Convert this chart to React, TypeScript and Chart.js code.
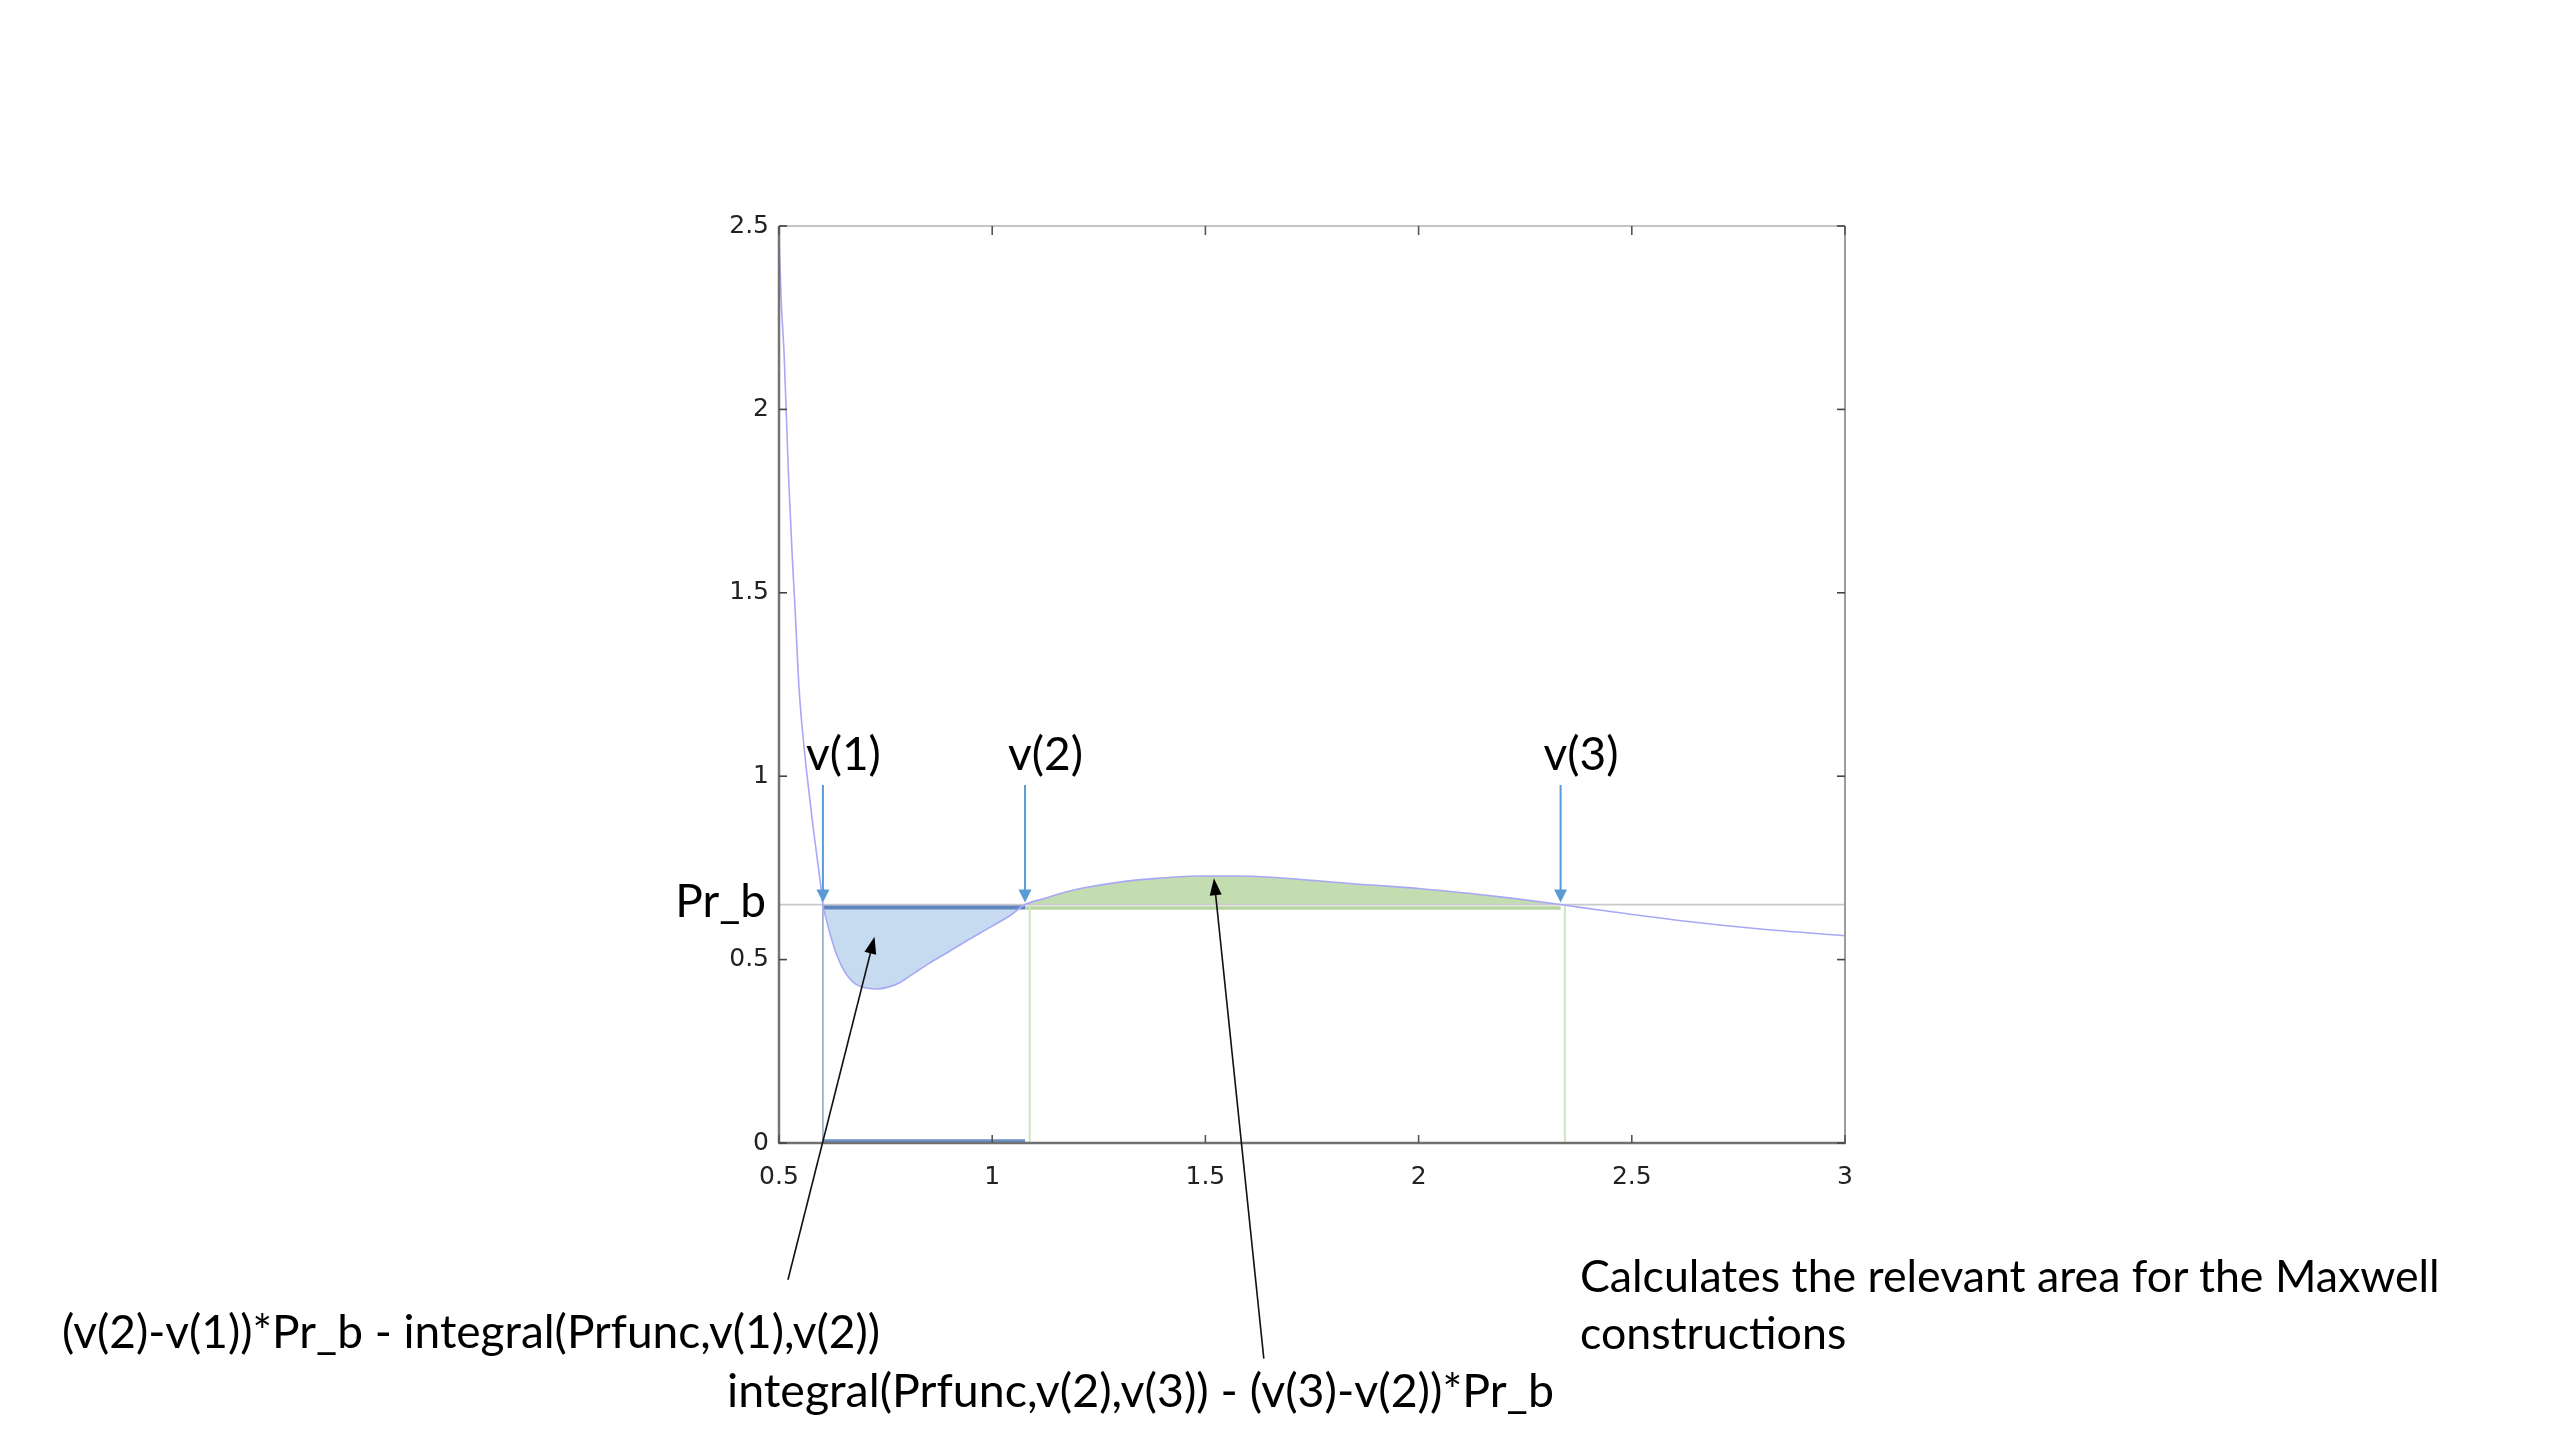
import React, { useEffect, useRef } from "react";
import { Chart, registerables } from "chart.js";

Chart.register(...registerables);

// ---------------- data ----------------
const curveX = [
  0.5, 0.505, 0.512, 0.522, 0.531, 0.538, 0.547, 0.557, 0.567, 0.578, 0.588, 0.597,
  0.603, 0.612, 0.621, 0.635, 0.653, 0.675, 0.702, 0.729, 0.756, 0.783, 0.818, 0.854,
  0.899, 0.944, 0.998, 1.043, 1.077, 1.124, 1.168, 1.213, 1.303, 1.392, 1.482, 1.572,
  1.661, 1.75, 1.854, 2.0, 2.123, 2.222, 2.333, 2.437, 2.616, 2.796, 3.0,
];
const curveY = [
  2.47, 2.3, 2.15, 1.83, 1.6, 1.45, 1.24, 1.1, 0.99, 0.88, 0.79, 0.71,
  0.65, 0.605, 0.565, 0.514, 0.469, 0.437, 0.423, 0.42, 0.425, 0.437, 0.464, 0.491,
  0.522, 0.554, 0.59, 0.621, 0.65, 0.667, 0.683, 0.695, 0.712, 0.722, 0.728, 0.728,
  0.724, 0.716, 0.706, 0.694, 0.68, 0.667, 0.65, 0.633, 0.606, 0.584, 0.565,
];
const PR_B = 0.65;
const vRoots = [0.603, 1.077, 2.333];
const vLabels = ["v(1)", "v(2)", "v(3)"];
const greenEdges = [1.088, 2.343];
const xTickValues = [0.5, 1, 1.5, 2, 2.5, 3];
const yTickValues = [0, 0.5, 1, 1.5, 2, 2.5];
const prLabel = "Pr_b";
const noteLeft = "(v(2)-v(1))*Pr_b - integral(Prfunc,v(1),v(2))";
const noteRight = "integral(Prfunc,v(2),v(3)) - (v(3)-v(2))*Pr_b";
const captionLines = ["Calculates the relevant area for the Maxwell", "constructions"];

// annotation geometry (data coordinates)
const ARROW_TOP = 0.976;
const pointerTips = [
  { x: 0.724, y: 0.562 },
  { x: 1.52, y: 0.722 },
];
const pointerTails = [
  { x: 0.521, y: -0.373 },
  { x: 1.637, y: -0.588 },
];

const TEXT_FONT = "Lato, 'Open Sans', sans-serif";

const overlayPlugin = {
  id: "maxwellOverlay",
  afterDatasetsDraw(chart: any) {
    const { ctx, chartArea: a, scales } = chart;
    const xs = scales.x;
    const ys = scales.y;
    const line = (x1: number, y1: number, x2: number, y2: number, color: string, w: number) => {
      ctx.beginPath();
      ctx.strokeStyle = color;
      ctx.lineWidth = w;
      ctx.moveTo(x1, y1);
      ctx.lineTo(x2, y2);
      ctx.stroke();
    };
    ctx.save();
    // frame
    line(a.left, a.top, a.right, a.top, "#c4c4c4", 2);
    line(a.right, a.top, a.right, a.bottom, "#9c9c9c", 2);
    line(a.left - 1, a.bottom, a.right + 1, a.bottom, "#707070", 2.5);
    line(a.left, a.top, a.left, a.bottom, "#747474", 2.5);
    // inward tick marks
    yTickValues.forEach((v) => {
      const py = ys.getPixelForValue(v);
      line(a.left, py, a.left + 8, py, "#444", 1.6);
      line(a.right - 8, py, a.right, py, "#444", 1.6);
    });
    xTickValues.forEach((v) => {
      const px = xs.getPixelForValue(v);
      line(px, a.top, px, a.top + 9, "#555", 1.6);
      line(px, a.bottom - 8, px, a.bottom, "#555", 1.6);
    });
    // blue root arrows + labels
    const prPix = ys.getPixelForValue(PR_B);
    const topPix = ys.getPixelForValue(ARROW_TOP);
    vRoots.forEach((v, i) => {
      const px = xs.getPixelForValue(v);
      const tip = prPix - 2;
      line(px, topPix, px, tip - 11, "#5B9BD5", 2);
      ctx.beginPath();
      ctx.fillStyle = "#5B9BD5";
      ctx.moveTo(px - 6.5, tip - 13);
      ctx.lineTo(px + 6.5, tip - 13);
      ctx.lineTo(px, tip);
      ctx.closePath();
      ctx.fill();
      ctx.font = `46px ${TEXT_FONT}`;
      ctx.fillStyle = "#000";
      ctx.textAlign = "left";
      ctx.textBaseline = "alphabetic";
      ctx.fillText(vLabels[i], px - 17, topPix - 15);
    });
    // Pr_b label
    ctx.font = `46px ${TEXT_FONT}`;
    ctx.fillStyle = "#000";
    ctx.textAlign = "right";
    ctx.textBaseline = "alphabetic";
    ctx.fillText(prLabel, a.left - 13, prPix + 12);
    // black pointer arrows
    pointerTips.forEach((t, i) => {
      const x1 = xs.getPixelForValue(pointerTails[i].x);
      const y1 = ys.getPixelForValue(pointerTails[i].y);
      const x2 = xs.getPixelForValue(t.x);
      const y2 = ys.getPixelForValue(t.y);
      const ang = Math.atan2(y2 - y1, x2 - x1);
      const c = Math.cos(ang);
      const s = Math.sin(ang);
      line(x1, y1, x2 - c * 12, y2 - s * 12, "#111", 1.6);
      const bx = x2 - c * 17;
      const by = y2 - s * 17;
      ctx.beginPath();
      ctx.fillStyle = "#000";
      ctx.moveTo(x2, y2);
      ctx.lineTo(bx - s * 6, by + c * 6);
      ctx.lineTo(bx + s * 6, by - c * 6);
      ctx.closePath();
      ctx.fill();
    });
    ctx.restore();
  },
};

export default function App() {
  const canvasRef = useRef<HTMLCanvasElement | null>(null);

  useEffect(() => {
    document.body.style.margin = "0";
    const canvas = canvasRef.current;
    if (!canvas) return;
    const pts = curveX.map((x, i) => ({ x, y: curveY[i] }));
    const [V1, V2, V3] = vRoots;
    const blueSeg = pts.filter((p) => p.x >= V1 && p.x <= V2);
    const greenSeg = pts.filter((p) => p.x >= V2 && p.x <= V3);
    const base = {
      pointRadius: 0,
      pointHoverRadius: 0,
      fill: false,
      tension: 0,
      clip: false as any,
    };
    const chart = new Chart(canvas, {
      type: "line",
      data: {
        datasets: [
          {
            ...base,
            data: pts,
            borderColor: "#a8a8f7",
            borderWidth: 1.6,
            cubicInterpolationMode: "monotone",
            clip: 2,
          },
          {
            ...base,
            data: [
              { x: V1, y: 0 },
              { x: V1, y: PR_B },
            ],
            borderColor: "#9fb2cc",
            borderWidth: 1.8,
          },
          {
            ...base,
            data: [
              { x: greenEdges[0], y: 0 },
              { x: greenEdges[0], y: PR_B },
            ],
            borderColor: "#d0e4c2",
            borderWidth: 2,
          },
          {
            ...base,
            data: [
              { x: greenEdges[1], y: 0 },
              { x: greenEdges[1], y: PR_B },
            ],
            borderColor: "#d0e4c2",
            borderWidth: 2,
          },
          {
            ...base,
            data: [
              { x: V1, y: PR_B - 0.008 },
              { x: V2, y: PR_B - 0.008 },
            ],
            borderColor: "#5f86bd",
            borderWidth: 4,
          },
          {
            ...base,
            data: [
              { x: V2, y: PR_B - 0.009 },
              { x: V3, y: PR_B - 0.009 },
            ],
            borderColor: "#b6d5a1",
            borderWidth: 3.5,
          },
          {
            ...base,
            data: [
              { x: V1, y: 0.006 },
              { x: V2, y: 0.006 },
            ],
            borderColor: "#6a8fc2",
            borderWidth: 3,
          },
          {
            ...base,
            data: [
              { x: 0.5, y: PR_B },
              { x: 3, y: PR_B },
            ],
            borderColor: "#c9c9c9",
            borderWidth: 1.6,
          },
          {
            ...base,
            data: blueSeg,
            borderWidth: 0,
            borderColor: "rgba(0,0,0,0)",
            backgroundColor: "#c6dbef",
            cubicInterpolationMode: "monotone",
            fill: { value: PR_B },
          },
          {
            ...base,
            data: greenSeg,
            borderWidth: 0,
            borderColor: "rgba(0,0,0,0)",
            backgroundColor: "#c3dcb0",
            cubicInterpolationMode: "monotone",
            fill: { value: PR_B },
          },
        ] as any,
      },
      options: {
        responsive: false,
        animation: false,
        devicePixelRatio: 1,
        events: [],
        layout: {
          padding: { left: 719, top: 226, right: 715, bottom: 247 },
          autoPadding: false,
        } as any,
        plugins: {
          legend: { display: false },
          tooltip: { enabled: false },
        },
        scales: {
          x: {
            type: "linear",
            min: 0.5,
            max: 3,
            afterFit: (s: any) => {
              s.height = 50;
            },
            afterBuildTicks: (s: any) => {
              s.ticks = xTickValues.map((v) => ({ value: v }));
            },
            grid: { display: false, drawTicks: false },
            border: { display: false },
            ticks: {
              padding: 19,
              autoSkip: false,
              maxRotation: 0,
              color: "#222",
              font: { family: "'DejaVu Sans', sans-serif", size: 25 },
              callback: (v: any) => String(v),
            },
          },
          y: {
            type: "linear",
            min: 0,
            max: 2.5,
            afterFit: (s: any) => {
              s.width = 60;
            },
            afterBuildTicks: (s: any) => {
              s.ticks = yTickValues.map((v) => ({ value: v }));
            },
            grid: { display: false, drawTicks: false },
            border: { display: false },
            ticks: {
              padding: 10,
              autoSkip: false,
              color: "#222",
              font: { family: "'DejaVu Sans', sans-serif", size: 25 },
              callback: (v: any) => String(v),
            },
          },
        },
      },
      plugins: [overlayPlugin],
    });
    return () => chart.destroy();
  }, []);

  const textStyle: React.CSSProperties = {
    position: "absolute",
    fontFamily: TEXT_FONT,
    fontSize: 46,
    lineHeight: "57px",
    color: "#000",
    whiteSpace: "nowrap",
    margin: 0,
  };

  return (
    <div
      style={{
        position: "absolute",
        left: 0,
        top: 0,
        width: 2560,
        height: 1440,
        background: "#fff",
        overflow: "hidden",
      }}
    >
      <canvas
        ref={canvasRef}
        width={2560}
        height={1440}
        style={{ position: "absolute", left: 0, top: 0, width: 2560, height: 1440 }}
      />
      <div style={{ ...textStyle, left: 62, top: 1302 }}>{noteLeft}</div>
      <div style={{ ...textStyle, fontSize: 46.5, left: 727, top: 1361 }}>{noteRight}</div>
      <div style={{ ...textStyle, fontSize: 44.7, left: 1580, top: 1247 }}>
        {captionLines.map((l) => (
          <div key={l}>{l}</div>
        ))}
      </div>
    </div>
  );
}
